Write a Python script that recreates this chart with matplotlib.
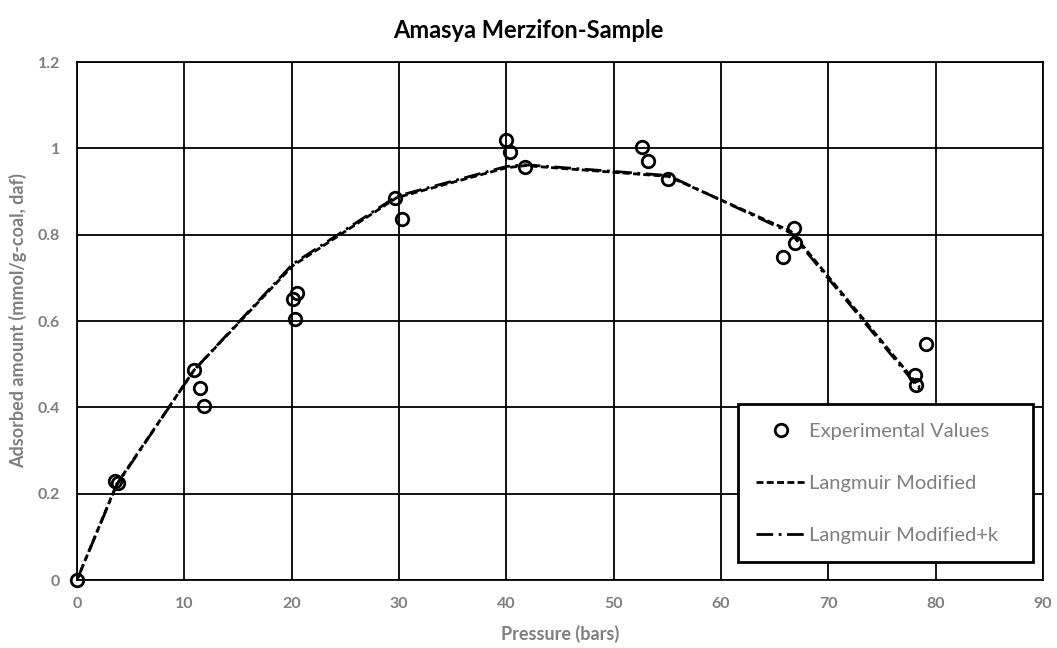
import matplotlib.pyplot as plt
import numpy as np

# experimental values
p_exp = [0, 3.5, 3.8, 10.9, 11.5, 11.8, 20.1, 20.5, 20.3, 29.6, 30.3,
         39.95, 40.3, 41.75, 52.6, 53.2, 55.1, 66.8, 66.9, 65.8, 79.1, 78.1, 78.2]
q_exp = [0, 0.23, 0.225, 0.486, 0.444, 0.404, 0.652, 0.666, 0.605, 0.886, 0.836,
         1.019, 0.991, 0.957, 1.004, 0.970, 0.930, 0.815, 0.780, 0.749, 0.546, 0.475, 0.452]

# model curves
p_fit = [0, 3.7, 10.9, 20.1, 29.8, 40.0, 41.75, 55.1, 66.5, 78.5]
q_lm = [0, 0.222, 0.486, 0.728, 0.886, 0.955, 0.960, 0.935, 0.808, 0.447]
q_lmk = [0, 0.220, 0.486, 0.732, 0.889, 0.958, 0.962, 0.937, 0.804, 0.442]

plt.rcParams['font.family'] = ['Lato', 'DejaVu Sans']
grey = '#7f7f7f'

fig = plt.figure(figsize=(10.57, 6.48), dpi=100)
ax = fig.add_axes([0.0728, 0.1049, 0.9140, 0.7994])

ax.plot(p_fit, q_lm, color='black', lw=2, ls=(0, (2.5, 1.2)), label='Langmuir Modified', zorder=3)
ax.plot(p_fit, q_lmk, color='black', lw=2, ls=(0, (6, 2, 1, 2)), label='Langmuir Modified+k', zorder=3)
ax.plot(p_exp, q_exp, 'o', ms=9, mfc='none', mec='black', mew=2, label='Experimental Values',
        zorder=4, clip_on=False)

ax.set_xlim(0, 90)
ax.set_ylim(0, 1.2)
ax.set_xticks(np.arange(0, 91, 10))
ax.set_yticks([0, 0.2, 0.4, 0.6, 0.8, 1.0, 1.2])
ax.set_yticklabels(['0', '0.2', '0.4', '0.6', '0.8', '1', '1.2'])
ax.grid(True, color='black', lw=1.3)
ax.set_axisbelow(True)
for s in ax.spines.values():
    s.set_color('black')
    s.set_linewidth(1.3)
ax.tick_params(length=0, pad=12, labelsize=11.5, labelcolor=grey)
for t in ax.get_xticklabels() + ax.get_yticklabels():
    t.set_fontweight('bold')

ax.set_xlabel('Pressure (bars)', fontsize=13, color=grey, fontweight='bold', labelpad=10)
ax.set_ylabel('Adsorbed amount (mmol/g-coal, daf)', fontsize=13, color=grey, fontweight='bold', labelpad=8)
fig.suptitle('Amasya Merzifon-Sample', fontsize=17, fontweight='bold', y=0.97)

h, l = ax.get_legend_handles_labels()
order = [2, 0, 1]
leg = ax.legend([h[i] for i in order], [l[i] for i in order],
                loc='upper left', bbox_to_anchor=(0.698, 0.128, 0.279, 0.248),
                bbox_transform=fig.transFigure, mode='expand', fancybox=False,
                borderaxespad=0, edgecolor='black', framealpha=1, fontsize=14.5,
                labelspacing=1.75, handlelength=2.5, handletextpad=0.15,
                borderpad=0.9, labelcolor=grey)
leg.get_frame().set_linewidth(2)

fig.savefig('out.png', dpi=100)
